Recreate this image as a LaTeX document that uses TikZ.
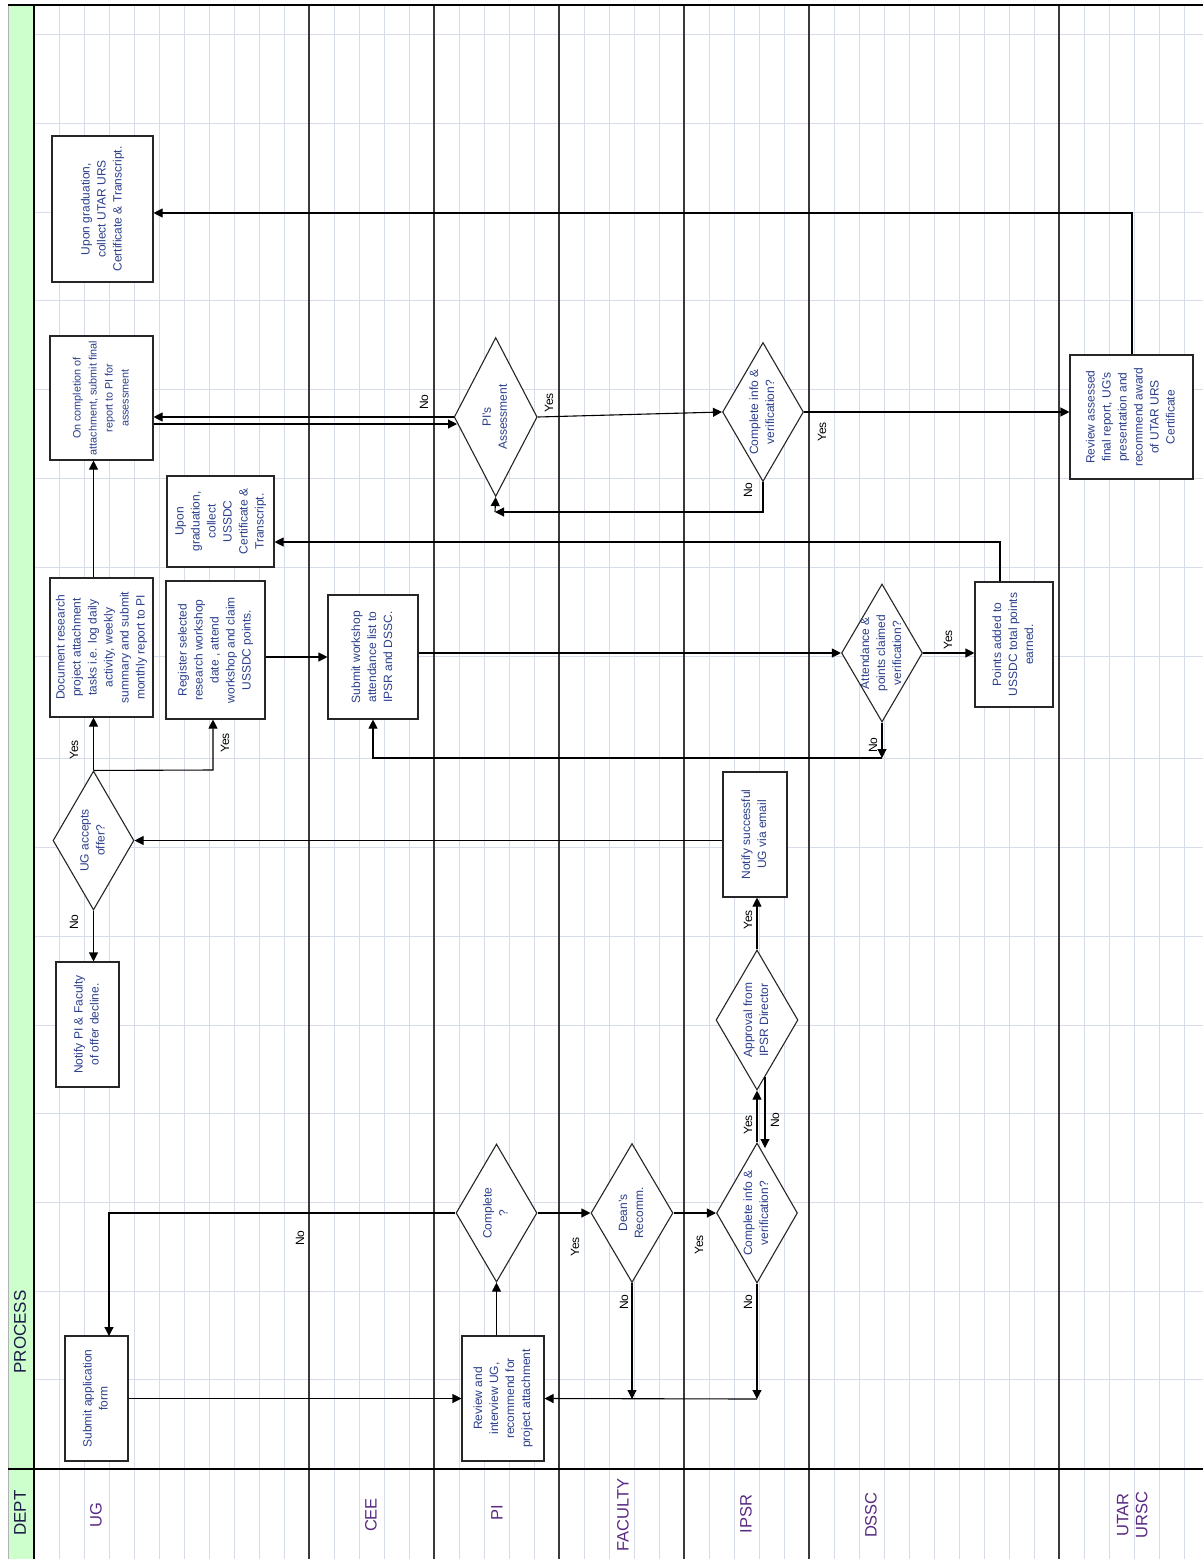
\documentclass[tikz,border=0pt]{standalone}
\usepackage{fontspec}
\setmainfont{Liberation Sans}
\usepackage{graphicx}
\usetikzlibrary{shapes.geometric,arrows.meta}
\definecolor{gridc}{HTML}{D6DCEA}
\definecolor{lanec}{HTML}{3A3A3A}
\definecolor{greenc}{HTML}{CCFFCC}
\definecolor{boxtxt}{HTML}{2B3F8C}
\definecolor{lanetxt}{HTML}{5A2A82}
\definecolor{hdrtxt}{HTML}{1C1C48}
\newcommand\rt[1]{\rotatebox{90}{\begin{tabular}{@{}c@{}}#1\end{tabular}}}
\begin{document}
\begin{tikzpicture}[x=1pt,y=-1pt,
  boxn/.style={draw=black!85, line width=1.1pt, fill=white, inner sep=0pt, text=boxtxt, font=\fontsize{12}{16}\selectfont},
  dia/.style={diamond, draw=black!85, line width=1.1pt, fill=white, inner sep=0pt},
  diatxt/.style={inner sep=0pt, text=boxtxt, font=\fontsize{12}{16}\selectfont},
  arr/.style={line width=1.1pt, -{Triangle[length=9pt,width=9pt]}},
  ln/.style={line width=1.1pt},
  yn/.style={inner sep=0pt, rotate=90, font=\fontsize{12}{14}\selectfont},
  lanelab/.style={inner sep=0pt, text=lanetxt, font=\fontsize{16.5}{19}\selectfont},
  hdrlab/.style={inner sep=0pt, rotate=90, text=hdrtxt, font=\fontsize{17}{20}\selectfont},
  gridl/.style={draw=gridc, line width=1pt},
  lanel/.style={draw=lanec, line width=1.3pt},
  thick/.style={draw=black, line width=2.8pt}
]
\useasboundingbox (0,0) rectangle (1203,1559);
\fill[white] (0,0) rectangle (1203,1559);
% grid
\foreach \x in {59,84,...,1184} \draw[gridl] (\x,5) -- (\x,1559);
\foreach \y in {34,123,212,300,389,478,567,656,758,847,936,1025,1113,1202,1291,1379} \draw[gridl] (34,\y) -- (1203,\y);
% green strip
\fill[greenc] (8,5) rectangle (33,1559);
\draw[draw=black!30, line width=1pt] (8,5) -- (8,1559);
% lane lines
\foreach \x in {309,434,559,684,809,1059} \draw[lanel] (\x,5) -- (\x,1559);
% thick borders
\draw[thick] (8,5) -- (1203,5);
\draw[thick] (34,5) -- (34,1559);
\draw[thick] (8,1469) -- (1203,1469);
% header labels
\node[hdrlab] (hproc) at (20,1332) {PROCESS};
\node[hdrlab] (hdept) at (20,1513) {DEPT};
\node[lanelab] (lug) at (96,1515) {\rotatebox{90}{UG}};
\node[lanelab] (lcee) at (371,1515) {\rotatebox{90}{CEE}};
\node[lanelab] (lpi) at (497,1513) {\rotatebox{90}{PI}};
\node[lanelab] (lfac) at (623,1515) {\rotatebox{90}{FACULTY}};
\node[lanelab] (lipsr) at (746,1514) {\rotatebox{90}{IPSR}};
\node[lanelab] (ldssc) at (871,1515) {\rotatebox{90}{DSSC}};
\node[lanelab] (lutar) at (1134,1515) {\rt{UTAR\\URSC}};

% boxes
\node[boxn, minimum width=63pt, minimum height=125pt] (sub) at (96.5,1398.5) {\rt{Submit application\\form}};
\node[boxn, minimum width=82pt, minimum height=125pt] (rev) at (503,1398.5) {\rt{Review and\\interview UG,\\recommend for\\project attachment}};
\node[boxn, minimum width=64pt, minimum height=125pt] (ns) at (755,834.5) {\rt{Notify successful\\UG via email}};
\node[boxn, minimum width=63pt, minimum height=125pt] (nd) at (87.5,1024.5) {\rt{Notify PI \& Faculty\\of offer decline.}};
\node[boxn, minimum width=103pt, minimum height=139pt] (doc) at (101.5,647.5) {\rt{Document research\\project attachment\\tasks i.e. log daily\\activity, weekly\\summary and submit\\monthly report to PI}};
\node[boxn, minimum width=99pt, minimum height=138pt] (reg) at (215.5,650) {\rt{Register selected\\research workshop\\date , attend\\workshop and claim\\USSDC points.}};
\node[boxn, minimum width=90pt, minimum height=124pt] (sw) at (373,657) {\rt{Submit workshop\\attendance list to\\IPSR and DSSC.}};
\node[boxn, minimum width=107pt, minimum height=91pt] (uc) at (220.5,521.5) {\rt{Upon\\graduation,\\collect\\USSDC\\Certificate \&\\Transcript.}};
\node[boxn, minimum width=103pt, minimum height=124pt, font=\fontsize{10.8}{16}\selectfont] (oc) at (101.5,398) {\rt{On completion of\\attachment, submit final\\report to PI for\\assessment}};
\node[boxn, minimum width=101pt, minimum height=146pt] (urs) at (102.5,209) {\rt{Upon graduation,\\collect UTAR URS\\Certificate \& Transcript.}};
\node[boxn, minimum width=78pt, minimum height=125pt] (pts) at (1014,644.5) {\rt{Points added to\\USSDC total points\\earned.}};
\node[boxn, minimum width=123pt, minimum height=124pt] (ra) at (1131.5,417) {\rt{Review assessed\\final report, UG's\\presentation and\\recommend award\\of UTAR URS\\Certificate}};

% diamonds
\node[dia, minimum width=81pt, minimum height=138pt] (cq) at (496.5,1213) {};
\node[diatxt] (cqt) at (cq) {\rt{Complete\\?}};
\node[dia, minimum width=82pt, minimum height=139pt] (dr) at (632,1213) {};
\node[diatxt] (drt) at (dr) {\rt{Dean's\\Recomm.}};
\node[dia, minimum width=81pt, minimum height=140pt] (ci1) at (757,1213) {};
\node[diatxt] (ci1t) at (ci1) {\rt{Complete info \&\\verification?}};
\node[dia, minimum width=82pt, minimum height=140pt] (ap) at (757,1020) {};
\node[diatxt] (apt) at (ap) {\rt{Approval from\\IPSR Director}};
\node[dia, minimum width=81pt, minimum height=139pt] (ua) at (93.5,840.5) {};
\node[diatxt] (uat) at (ua) {\rt{UG accepts\\offer?}};
\node[dia, minimum width=83pt, minimum height=159pt] (pia) at (495.7,417) {};
\node[diatxt] (piat) at (pia) {\rt{PI's\\Assessment}};
\node[dia, minimum width=81pt, minimum height=139pt] (ci2) at (763,412) {};
\node[diatxt] (ci2t) at (ci2) {\rt{Complete info \&\\verification?}};
\node[dia, minimum width=81pt, minimum height=138pt] (att) at (882,653) {};
\node[diatxt] (attt) at (att) {\rt{Attendance \&\\points claimed\\verification?}};

% bend coordinates
\coordinate (subin) at (109,1336);
\coordinate (j1) at (632,1399);
\coordinate (j2) at (757,1399);
\coordinate (apno) at (765,1077);
\coordinate (cino) at (765,1148);
\coordinate (k1) at (213,770);
\coordinate (k2) at (882,758);
\coordinate (k3) at (1000,542);
\coordinate (k5) at (457,424);
\coordinate (k6) at (495,512);
\coordinate (k7) at (1132,213);

% connectors
\draw[arr] (sub.east) -- (rev.west);
\draw[arr] (cq.west) -| (subin);
\draw[arr] (cq.south |- rev.north) -- (cq.south);
\draw[arr] (cq.east) -- (dr.west);
\draw[arr] (dr.east) -- (ci1.west);
\draw[arr] (dr.south) -- (j1);
\draw[arr] (ci1.south) -- (j2);
\draw[arr] (j2) -- (rev.east);
\draw[arr] (ci1.north) -- (ap.south);
\draw[arr] (apno) -- (cino);
\draw[arr] (ap.north) -- (ap.north |- ns.south);
\draw[arr] (ns.west |- ua.east) -- (ua.east);
\draw[arr] (ua.south) -- (ua.south |- nd.north);
\draw[arr] (ua.north) -- (ua.north |- doc.south);
\draw[arr] (ua.north) -- (k1) -- (k1 |- reg.south);
\draw[arr] (reg.east |- sw.west) -- (sw.west);
\draw[arr] (sw.east |- att.west) -- (att.west);
\draw[arr] (att.south) -- (k2);
\draw[arr] (k2) -| (sw.south);
\draw[arr] (att.east) -- (att.east -| pts.west);
\draw[arr] (pts.north -| k3) -- (k3) -- (k3 -| uc.east);
\draw[arr] (doc.north -| ua.north) -- (oc.south -| ua.north);
\draw[arr] (pia.west) -- (pia.west -| oc.east);
\draw[arr] (oc.east |- k5) -- (k5);
\draw[arr] (pia.east) -- (ci2.west);
\draw[arr] (ci2.south) |- (k6);
\draw[arr] (k6) -- (pia.south);
\draw[arr] (ci2.east) -- (ci2.east -| ra.west);
\draw[arr] (ra.north -| k7) -- (k7) -- (k7 -| urs.east);

% yes/no labels
\node[yn] (n1) at (300,1238) {No};
\node[yn] (n2) at (575,1247) {Yes};
\node[yn] (n3) at (699,1245) {Yes};
\node[yn] (n4) at (624,1302) {No};
\node[yn] (n5) at (748,1302) {No};
\node[yn] (n6) at (748,1125) {Yes};
\node[yn] (n7) at (775,1120) {No};
\node[yn] (n8) at (748,920) {Yes};
\node[yn] (n9) at (74,922) {No};
\node[yn] (n10) at (74,750) {Yes};
\node[yn] (n11) at (225,743) {Yes};
\node[yn] (n12) at (873,745) {No};
\node[yn] (n13) at (948,640) {Yes};
\node[yn] (n14) at (424,402) {No};
\node[yn] (n15) at (549,403) {Yes};
\node[yn] (n16) at (748,490) {No};
\node[yn] (n17) at (822,432) {Yes};
\end{tikzpicture}
\end{document}
